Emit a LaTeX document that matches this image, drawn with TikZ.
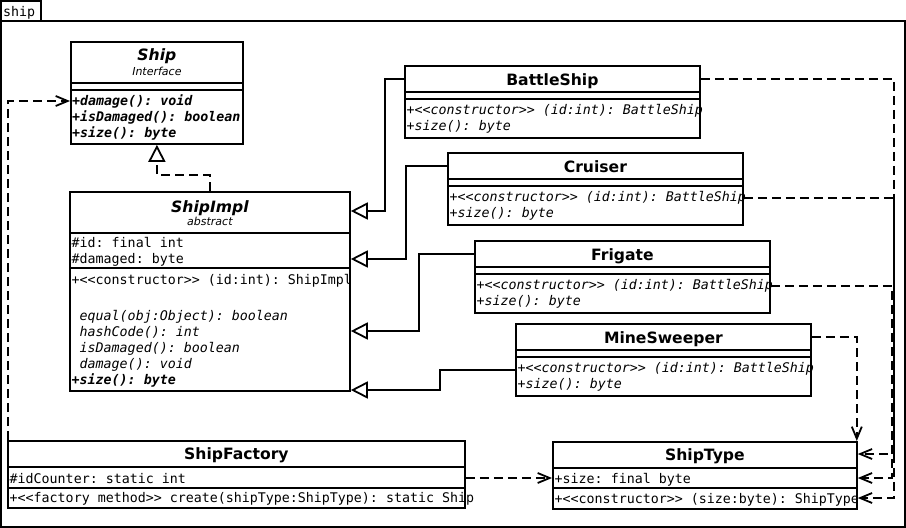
\documentclass[tikz,border=0pt]{standalone}
\usepackage{fontspec}
\setmainfont{DejaVu Sans}
\setmonofont{DejaVu Sans Mono}
\usetikzlibrary{arrows.meta,positioning,calc}
\tikzset{
  cls/.style    = {draw, line width=1.8pt, anchor=north west, inner sep=0pt},
  sep/.style    = {line width=1.8pt},
  ttl/.style    = {font=\fontsize{15.6}{18}\selectfont\bfseries, anchor=base, inner sep=0pt},
  stereo/.style = {font=\fontsize{11}{13}\selectfont\itshape, anchor=base, inner sep=0pt},
  mbr/.style    = {font=\fontsize{13.3}{16}\selectfont\ttfamily, anchor=base west, inner sep=0pt},
  gen/.style    = {-{Triangle[open,length=17pt,width=17pt]}, line width=1.8pt},
  real/.style   = {gen, dash pattern=on 9pt off 5pt},
  dep/.style    = {-{Straight Barb[length=12pt,width=10pt]}, line width=1.8pt, dash pattern=on 9pt off 5pt},
}

\begin{document}
\begin{tikzpicture}[x=1pt,y=-1pt]
  \useasboundingbox (0,0) rectangle (906,528);
  \fill[white] (0,0) rectangle (906,528);

  % package frame
  \draw[sep] (1,21) rectangle (905,527);
  \draw[line width=1.2pt] (1,1) rectangle (41,21);
  \node[mbr] (pkg) at (3,16) {ship};

  % interface
  \node[cls, minimum width=172, minimum height=102] (ship) at (70,41) {};
  \draw[sep] ([yshift=-42pt]ship.north west) -- ([yshift=-42pt]ship.north east);
  \draw[sep] ([yshift=-49pt]ship.north west) -- ([yshift=-49pt]ship.north east);
  \node[ttl] (ship-t) at ([yshift=-19pt]ship.north) {\itshape Ship};
  \node[stereo] (ship-s) at ([yshift=-34pt]ship.north) {Interface};
  \foreach \txt [count=\i] in {+damage(): void, +isDamaged(): boolean, +size(): byte}
    \node[mbr] (ship-m\i) at ([xshift=2pt,yshift={-48-16*\i}]ship.north west) {\bfseries\itshape\txt};

  % abstract base
  \node[cls, minimum width=280, minimum height=199] (impl) at (69,191) {};
  \draw[sep] ([yshift=-42pt]impl.north west) -- ([yshift=-42pt]impl.north east);
  \draw[sep] ([yshift=-77pt]impl.north west) -- ([yshift=-77pt]impl.north east);
  \node[ttl] (impl-t) at ([yshift=-21pt]impl.north) {\itshape ShipImpl};
  \node[stereo] (impl-s) at ([yshift=-34pt]impl.north) {abstract};
  \node[mbr] (impl-a1) at ([xshift=2.5pt,yshift=-56pt]impl.north west) {\#id: final int};
  \node[mbr] (impl-a2) at ([xshift=2.5pt,yshift=-72pt]impl.north west) {\#damaged: byte};
  \node[mbr] (impl-c) at ([xshift=2.5pt,yshift=-93pt]impl.north west) {+<<constructor>> (id:int): ShipImpl};
  \foreach \txt [count=\i] in {equal(obj:Object): boolean, hashCode(): int, isDamaged(): boolean, damage(): void}
    \node[mbr] (impl-m\i) at ([xshift=2.5pt,yshift={-113-16*\i}]impl.north west) {~\itshape\txt};
  \node[mbr] (impl-sz) at ([xshift=2.5pt,yshift=-193pt]impl.north west) {\bfseries\itshape +size(): byte};

  % concrete ships
  \foreach \nm/\cname/\x/\y in {bs/BattleShip/404/65, cr/Cruiser/447/152, fr/Frigate/474/240, ms/MineSweeper/515/323} {
    \node[cls, minimum width=295, minimum height=72] (\nm) at (\x,\y) {};
    \draw[sep] ([yshift=-27pt]\nm.north west) -- ([yshift=-27pt]\nm.north east);
    \draw[sep] ([yshift=-34pt]\nm.north west) -- ([yshift=-34pt]\nm.north east);
    \node[ttl] (\nm-t) at ([yshift=-20pt]\nm.north) {\cname};
    \node[mbr] (\nm-m1) at ([xshift=2.5pt,yshift=-49pt]\nm.north west) {\itshape +<<constructor>> (id:int): BattleShip};
    \node[mbr] (\nm-m2) at ([xshift=2.5pt,yshift=-65pt]\nm.north west) {\itshape +size(): byte};
  }

  % factory
  \node[cls, minimum width=457, minimum height=67] (fac) at (7,440) {};
  \draw[sep] ([yshift=-27pt]fac.north west) -- ([yshift=-27pt]fac.north east);
  \draw[sep] ([yshift=-48pt]fac.north west) -- ([yshift=-48pt]fac.north east);
  \node[ttl] (fac-t) at ([yshift=-19pt]fac.north) {ShipFactory};
  \node[mbr] (fac-a) at ([xshift=2.5pt,yshift=-43pt]fac.north west) {\#idCounter: static int};
  \node[mbr] (fac-m) at ([xshift=2.5pt,yshift=-62pt]fac.north west) {+<<factory method>> create(shipType:ShipType): static Ship};

  % type
  \node[cls, minimum width=304, minimum height=67] (type) at (552,441) {};
  \draw[sep] ([yshift=-27pt]type.north west) -- ([yshift=-27pt]type.north east);
  \draw[sep] ([yshift=-47pt]type.north west) -- ([yshift=-47pt]type.north east);
  \node[ttl] (type-t) at ([yshift=-19pt]type.north) {ShipType};
  \node[mbr] (type-a) at ([xshift=2.5pt,yshift=-42pt]type.north west) {+size: final byte};
  \node[mbr] (type-m) at ([xshift=2.5pt,yshift=-62pt]type.north west) {+<<constructor>> (size:byte): ShipType};

  % realization
  \coordinate (rB) at (182,175);
  \draw[real] (impl.north) |- (rB) -| (ship.south);

  % generalizations
  \coordinate (g1) at (385,211);
  \coordinate (g2) at (406,259);
  \coordinate (g3) at (419,331);
  \coordinate (g4) at (440,390);
  \draw[gen] ([yshift=-14pt]bs.north west) -| (g1) -- (g1 -| impl.east);
  \draw[gen] ([yshift=-14pt]cr.north west) -| (g2) -- (g2 -| impl.east);
  \draw[gen] ([yshift=-14pt]fr.north west) -| (g3) -- (g3 -| impl.east);
  \draw[gen] ([yshift=-47pt]ms.north west) -| (g4) -- (g4 -| impl.east);

  % dependencies
  \coordinate (dF) at (8,101);
  \coordinate (dT) at (508,478);
  \coordinate (dB) at (894,454);
  \coordinate (dC) at (894,498);
  \coordinate (dR) at (892,478);
  \draw[dep] (fac.north west -| dF) -- (dF) -- (dF -| ship.west);
  \draw[dep] (fac.east |- dT) -- (type.west |- dT);
  \draw[dep] ([yshift=-14pt]bs.north east) -| (dB) -- (dB -| type.east);
  \draw[dep] ([yshift=-46pt]cr.north east) -| (dC) -- (dC -| type.east);
  \draw[dep] ([yshift=-46pt]fr.north east) -| (dR) -- (dR -| type.east);
  \draw[dep] ([yshift=-14pt]ms.north east) -| ([xshift=-1pt]type.north east);
\end{tikzpicture}
\end{document}
